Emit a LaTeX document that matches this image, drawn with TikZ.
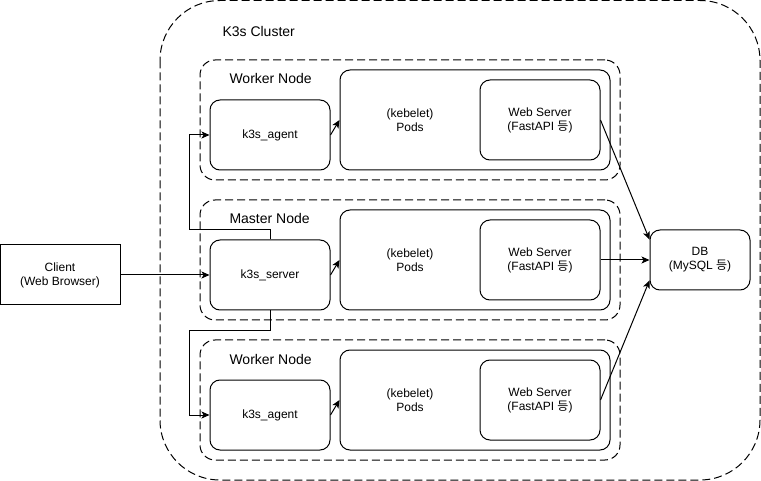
\documentclass[tikz,border=0pt]{standalone}
\usepackage{fontspec}
\setmainfont{Liberation Sans}
\newfontfamily\cjk{Noto Sans CJK KR}
\usetikzlibrary{arrows.meta}

\tikzset{
  every path/.style={line width=1pt},
  box/.style={draw, rounded corners=10pt, align=center, font=\fontsize{12}{14}\selectfont, inner sep=0pt},
  group/.style={draw, dash pattern=on 8pt off 4pt, rounded corners=15pt, inner sep=0pt},
  grouplabel/.style={anchor=west, font=\fontsize{14}{16}\selectfont, inner sep=0pt},
  link/.style={-{Stealth[length=8pt,width=7pt,inset=2pt]}},
}
\newcommand{\deung}{{\cjk 등}}

\begin{document}
\begin{tikzpicture}[x=1pt, y=-1pt]
  \useasboundingbox (0,0) rectangle (761,481);
  % cluster
  \draw[dash pattern=on 8pt off 4pt, rounded corners=60pt] (160,0.5) rectangle (760,480);
  \node[grouplabel] (title) at (222,31) {K3s Cluster};

  % groups
  \node[group, minimum width=420pt, minimum height=120pt] (wg1) at (410,120) {};
  \node[group, minimum width=420pt, minimum height=120pt] (mg) at (410,260) {};
  \node[group, minimum width=420pt, minimum height=120pt] (wg2) at (410,400) {};
  \node[grouplabel] (wl1) at (229,78) {Worker Node};
  \node[grouplabel] (ml) at (229,218) {Master Node};
  \node[grouplabel] (wl2) at (229,359) {Worker Node};

  % boxes
  \node[box, minimum width=120pt, minimum height=70pt] (agent1) at (270,135) {k3s\_agent};
  \node[box, minimum width=120pt, minimum height=70pt] (server) at (270,275) {k3s\_server};
  \node[box, minimum width=120pt, minimum height=70pt] (agent2) at (270,415) {k3s\_agent};
  \node[box, minimum width=270pt, minimum height=100pt] (pods1) at (475,120) {};
  \node[box, minimum width=270pt, minimum height=100pt] (pods2) at (475,260) {};
  \node[box, minimum width=270pt, minimum height=100pt] (pods3) at (475,400) {};
  \node[box, draw=none] (pl1) at (410,120) {(kebelet)\\Pods};
  \node[box, draw=none] (pl2) at (410,260) {(kebelet)\\Pods};
  \node[box, draw=none] (pl3) at (410,400) {(kebelet)\\Pods};
  \node[box, minimum width=120pt, minimum height=80pt] (web1) at (540,120) {Web Server\\(FastAPI \deung)};
  \node[box, minimum width=120pt, minimum height=80pt] (web2) at (540,260) {Web Server\\(FastAPI \deung)};
  \node[box, minimum width=120pt, minimum height=80pt] (web3) at (540,400) {Web Server\\(FastAPI \deung)};
  \node[box, minimum width=100pt, minimum height=60pt] (db) at (700,260) {DB\\(MySQL \deung)};
  \node[box, rounded corners=0pt, minimum width=120pt, minimum height=60pt] (client) at (60,275) {Client\\(Web Browser)};

  % links
  \draw[link] (client) -- (server);
  \draw[link] (server.north) -- ++(0,-10) -| ([xshift=-20pt]agent1.west) -- (agent1.west);
  \draw[link] (server.south) -- ++(0,20) -| ([xshift=-20pt]agent2.west) -- (agent2.west);
  \draw[link] (agent1.east) -- (pods1.west);
  \draw[link] (server.east) -- (pods2.west);
  \draw[link] (agent2.east) -- (pods3.west);
  \draw[link] (web1.east) -- (db.158);
  \draw[link] (web2.east) -- (db.west);
  \draw[link] (web3.east) -- (db.202);
\end{tikzpicture}
\end{document}
